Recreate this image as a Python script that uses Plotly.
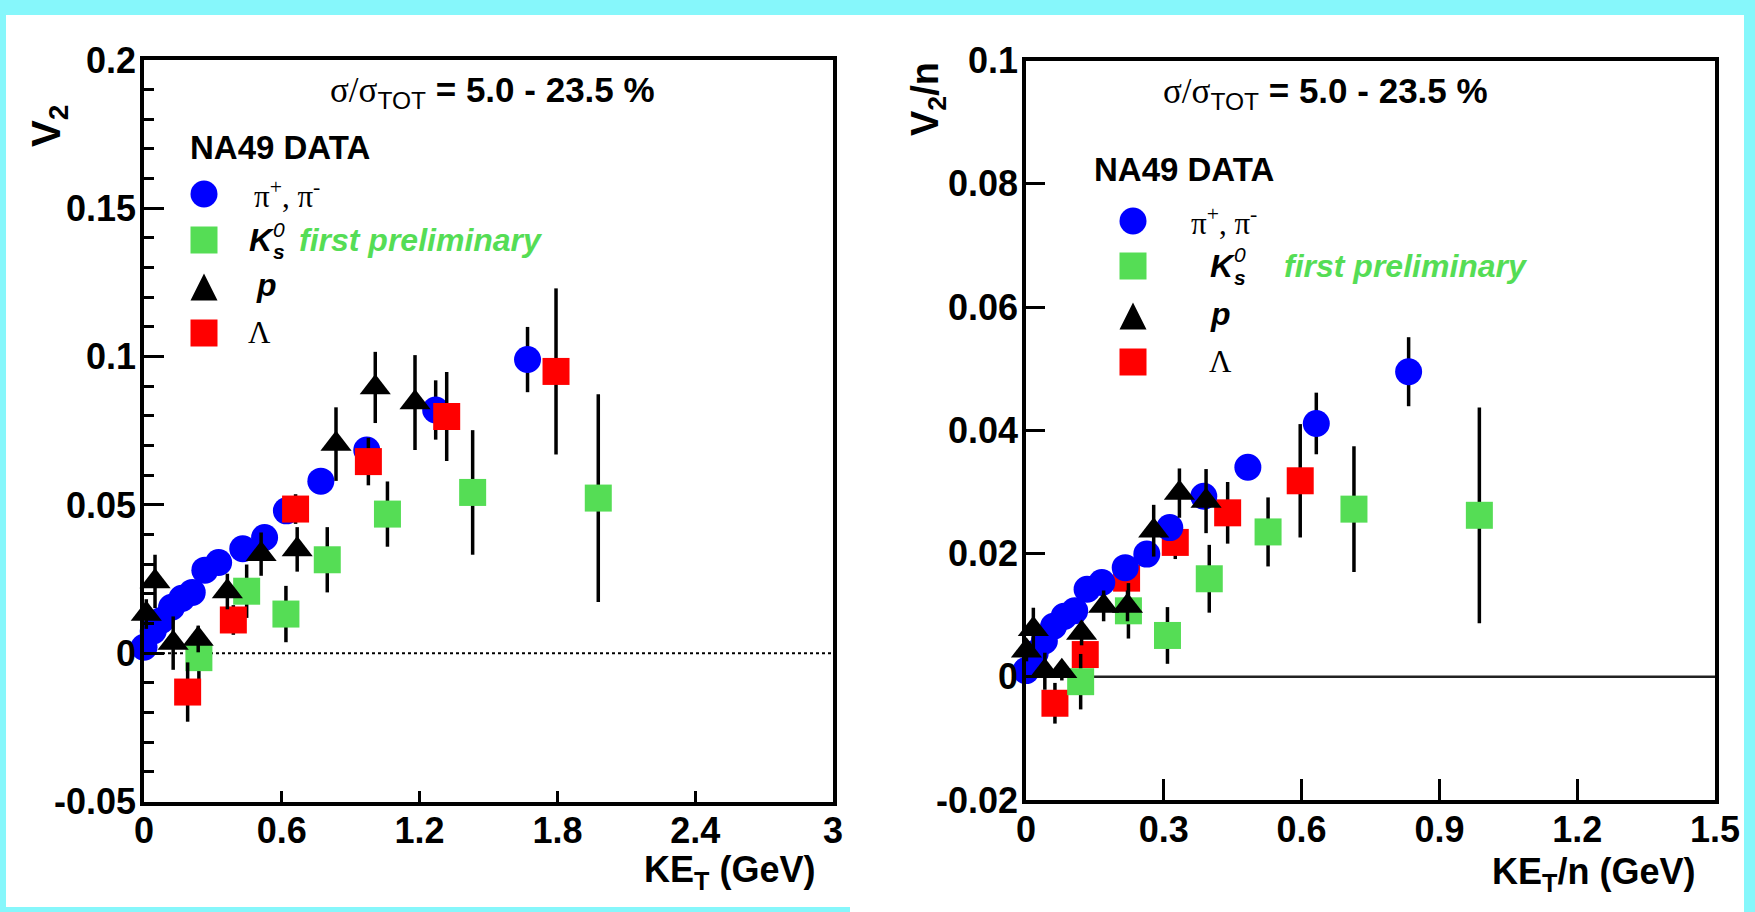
import plotly.graph_objects as go

W, H = 1755, 912
SANS = "Liberation Sans, Arial, Helvetica, sans-serif"
SERIF = "Liberation Serif, Times New Roman, serif"
CYAN = "#86F7FB"
BLUE = "#0000FF"
GREEN = "#55DD55"
RED = "#FF0000"
BLACK = "#000000"

# ---------------- left panel: v2 vs KE_T (GeV) ----------------
pi_ket = [0.0, 0.04, 0.075, 0.12, 0.165, 0.21, 0.265, 0.325, 0.43, 0.525, 0.62, 0.77, 0.97, 1.27, 1.67]
pi_v2 = [0.002, 0.0075, 0.011, 0.0155, 0.0185, 0.0205, 0.028, 0.0306, 0.0352, 0.039, 0.048, 0.058, 0.0685, 0.082, 0.099]
pi_err = [0.001, 0.001, 0.001, 0.001, 0.001, 0.001, 0.001, 0.001, 0.0015, 0.0015, 0.002, 0.003, 0.003, 0.010, 0.011]

k0_ket = [0.239, 0.447, 0.618, 0.798, 1.060, 1.431, 1.978]
k0_v2 = [-0.0015, 0.0209, 0.0132, 0.0315, 0.0469, 0.0542, 0.0523]
k0_err = [0.009, 0.009, 0.0095, 0.011, 0.011, 0.021, 0.035]

p_ket = [0.01, 0.048, 0.127, 0.236, 0.363, 0.51, 0.667, 0.836, 1.007, 1.18]
p_v2 = [0.0132, 0.0242, 0.0034, 0.0048, 0.0208, 0.0334, 0.035, 0.0705, 0.0896, 0.0845]
p_err = [0.005, 0.009, 0.009, 0.0045, 0.006, 0.0073, 0.0075, 0.0124, 0.012, 0.016]

lam_ket = [0.19, 0.389, 0.66, 0.977, 1.318, 1.794]
lam_v2 = [-0.0131, 0.0112, 0.0486, 0.0646, 0.0798, 0.0950]
lam_err = [0.010, 0.005, 0.005, 0.008, 0.015, 0.028]

# ---------------- right panel: v2/n vs KE_T/n (GeV) ----------------
pi_ketn = [0.0, 0.02, 0.04, 0.06, 0.083, 0.106, 0.133, 0.165, 0.216, 0.263, 0.313, 0.387, 0.483, 0.632, 0.833]
pi_v2n = [0.001, 0.0038, 0.0058, 0.0082, 0.0098, 0.0107, 0.0142, 0.0153, 0.0177, 0.0199, 0.0242, 0.0293, 0.034, 0.0411, 0.0495]
pi_errn = [0.0005, 0.0005, 0.0005, 0.0005, 0.0005, 0.0005, 0.0005, 0.0005, 0.0008, 0.0008, 0.001, 0.0015, 0.0015, 0.005, 0.0056]

k0_ketn = [0.119, 0.223, 0.308, 0.399, 0.527, 0.714, 0.987]
k0_v2n = [-0.0008, 0.0107, 0.0067, 0.0159, 0.0235, 0.0272, 0.0262]
k0_errn = [0.0045, 0.0045, 0.0046, 0.0055, 0.0056, 0.0102, 0.0175]

p_ketn = [0.001, 0.016, 0.041, 0.078, 0.121, 0.169, 0.221, 0.278, 0.334, 0.392]
p_v2n = [0.0042, 0.0077, 0.0009, 0.0009, 0.0071, 0.0115, 0.0115, 0.0237, 0.0298, 0.0285]
p_errn = [0.0017, 0.0035, 0.003, 0.0015, 0.002, 0.0025, 0.0025, 0.0042, 0.004, 0.0052]

lam_ketn = [0.063, 0.129, 0.219, 0.325, 0.439, 0.597]
lam_v2n = [-0.0043, 0.0036, 0.0160, 0.0218, 0.0266, 0.0318]
lam_errn = [0.0033, 0.0017, 0.0017, 0.0027, 0.005, 0.0092]

# tick labels
xl_vals = [0, 0.6, 1.2, 1.8, 2.4, 3]
xl_text = ["0", "0.6", "1.2", "1.8", "2.4", "3"]
yl_vals = [-0.05, 0, 0.05, 0.1, 0.15, 0.2]
yl_text = ["-0.05", "0", "0.05", "0.1", "0.15", "0.2"]
xr_vals = [0, 0.3, 0.6, 0.9, 1.2, 1.5]
xr_text = ["0", "0.3", "0.6", "0.9", "1.2", "1.5"]
yr_vals = [-0.02, 0, 0.02, 0.04, 0.06, 0.08, 0.1]
yr_text = ["-0.02", "0", "0.02", "0.04", "0.06", "0.08", "0.1"]

fig = go.Figure()


def series(x, y, e, symbol, color, size, xa, ya):
    fig.add_trace(go.Scatter(
        x=x, y=y, mode="markers", xaxis=xa, yaxis=ya, showlegend=False,
        cliponaxis=False,
        marker=dict(symbol=symbol, size=size, color=color, line=dict(width=0)),
        error_y=dict(type="data", array=e, visible=True, color=BLACK,
                     thickness=3.5, width=0),
    ))


# left (drawing order as in reference)
series(pi_ket, pi_v2, pi_err, "circle", BLUE, 27, "x", "y")
series(k0_ket, k0_v2, k0_err, "square", GREEN, 27, "x", "y")
series(lam_ket, lam_v2, lam_err, "square", RED, 27, "x", "y")
series(p_ket, p_v2, p_err, "triangle-up", BLACK, 27, "x", "y")
# right
series(lam_ketn, lam_v2n, lam_errn, "square", RED, 27, "x2", "y2")
series(k0_ketn, k0_v2n, k0_errn, "square", GREEN, 27, "x2", "y2")
series(pi_ketn, pi_v2n, pi_errn, "circle", BLUE, 27, "x2", "y2")
series(p_ketn, p_v2n, p_errn, "triangle-up", BLACK, 27, "x2", "y2")

tickfont = dict(family=SANS, size=36, color=BLACK, weight="bold")
common = dict(showline=True, linewidth=3.5, linecolor=BLACK, mirror=True,
              showgrid=False, zeroline=False, ticks="inside", tickcolor=BLACK,
              tickwidth=2.5, tickfont=tickfont, tickmode="array", automargin=False)

fig.update_layout(
    template="none",
    width=W, height=H, margin=dict(l=0, r=0, t=0, b=0, pad=0, autoexpand=False),
    paper_bgcolor=CYAN, plot_bgcolor="white", showlegend=False,
    xaxis=dict(domain=[144 / W, 833 / W], range=[0, 3], tickvals=xl_vals,
               ticktext=xl_text, ticklen=11, anchor="y", ticklabelstandoff=-5,
               **common),
    yaxis=dict(domain=[(H - 801.5) / H, (H - 60) / H], range=[-0.05, 0.2],
               tickvals=yl_vals, ticktext=yl_text, ticklen=20, anchor="x",
               ticklabelstandoff=-3,
               minor=dict(tickmode="linear", tick0=0, dtick=0.01, ticks="inside",
                          ticklen=10, tickwidth=2.5, tickcolor=BLACK, showgrid=False),
               **common),
    xaxis2=dict(domain=[1026 / W, 1715 / W], range=[0, 1.5], tickvals=xr_vals,
                ticktext=xr_text, ticklen=21, anchor="y2", ticklabelstandoff=-5,
                **common),
    yaxis2=dict(domain=[(H - 800) / H, (H - 60.5) / H], range=[-0.02, 0.1],
                tickvals=yr_vals, ticktext=yr_text, ticklen=19, anchor="x2",
                ticklabelstandoff=-3, **common),
)

shapes = []
# white page area over the cyan frame
shapes.append(dict(type="rect", xref="paper", yref="paper", x0=6 / W, x1=1744 / W,
                   y0=0, y1=1 - 15 / H, fillcolor="white", line=dict(width=0),
                   layer="below"))
shapes.append(dict(type="rect", xref="paper", yref="paper", x0=0, x1=850 / W,
                   y0=0, y1=5 / H, fillcolor=CYAN, line=dict(width=0), layer="below"))
# zero reference lines
shapes.append(dict(type="line", xref="x", yref="y", x0=xl_vals[0], x1=xl_vals[-1],
                   y0=0, y1=0, line=dict(color=BLACK, width=2, dash="dot"),
                   layer="below"))
shapes.append(dict(type="line", xref="x2", yref="y2", x0=xr_vals[0], x1=xr_vals[-1],
                   y0=0, y1=0, line=dict(color="#222222", width=2.5),
                   layer="below"))


def px(x):
    return x / W


def py(y):
    return 1 - y / H


def legend_circle(cx, cy, color, d=27):
    r = d / 2
    shapes.append(dict(type="circle", xref="paper", yref="paper",
                       x0=px(cx - r), x1=px(cx + r), y0=py(cy + r), y1=py(cy - r),
                       fillcolor=color, line=dict(width=0)))


def legend_square(cx, cy, color, d=27):
    r = d / 2
    shapes.append(dict(type="rect", xref="paper", yref="paper",
                       x0=px(cx - r), x1=px(cx + r), y0=py(cy + r), y1=py(cy - r),
                       fillcolor=color, line=dict(width=0)))


def legend_triangle(cx, cy, color, d=27):
    r = d / 2
    path = "M {:.5f},{:.5f} L {:.5f},{:.5f} L {:.5f},{:.5f} Z".format(
        px(cx - r), py(cy + r), px(cx + r), py(cy + r), px(cx), py(cy - r))
    shapes.append(dict(type="path", xref="paper", yref="paper", path=path,
                       fillcolor=color, line=dict(width=0)))


annotations = []


def ann(text, x, y, size, color=BLACK, family=SANS, xanchor="left",
        yanchor="middle", angle=0):
    annotations.append(dict(text=text, x=px(x), y=py(y), xref="paper", yref="paper",
                            showarrow=False, xanchor=xanchor, yanchor=yanchor,
                            textangle=angle,
                            font=dict(family=family, size=size, color=color)))


def legend_block(mx, rows, title_xy, lab_dx):
    legend_circle(mx, rows[0], BLUE)
    legend_square(mx, rows[1], GREEN)
    legend_triangle(mx, rows[2], BLACK)
    legend_square(mx, rows[3], RED)
    ann("<b>NA49 DATA</b>", title_xy[0], title_xy[1], 33)
    ann("π<sup>+</sup>, π<sup>-</sup>", mx + lab_dx[0], rows[0], 31, family=SERIF)
    ann("<b><i>K</i></b>", mx + lab_dx[1], rows[1], 32)
    ann("<i>0</i>", mx + lab_dx[1] + 24, rows[1] - 11, 21)
    ann("<b><i>s</i></b>", mx + lab_dx[1] + 24, rows[1] + 11, 21)
    ann("<b><i>first preliminary</i></b>", mx + lab_dx[4], rows[1], 32, color=GREEN)
    ann("<b><i>p</i></b>", mx + lab_dx[2], rows[2] - 2, 32)
    ann("Λ", mx + lab_dx[3], rows[3], 31, family=SERIF)


legend_block(204, [194, 240, 287, 333], (188, 147), [48, 43, 50, 42, 93])
legend_block(1133, [221, 266, 316, 362], (1092, 170), [56, 75, 75, 74, 149])

sigma = ("<span style='font-family:Liberation Serif'>σ/σ</span><sub>TOT</sub>"
         "<b> = 5.0 - 23.5 %</b>")
ann(sigma, 492, 92, 35, xanchor="center")
ann(sigma, 1325, 93, 35, xanchor="center")

ann("<b>V<sub>2</sub></b>", 49, 126, 40, xanchor="center", angle=-90)
ann("<b>V<sub>2</sub>/n</b>", 928, 99, 38, xanchor="center", angle=-90)
ann("<b>KE<sub>T</sub> (GeV)</b>", 817, 872, 36, xanchor="right")
ann("<b>KE<sub>T</sub>/n (GeV)</b>", 1697, 874, 36, xanchor="right")

fig.update_layout(shapes=shapes, annotations=annotations)
fig.write_html("out.html",
               config={"displayModeBar": False},
               post_script="document.body.style.margin='0px';"
                           "document.body.style.overflow='hidden';")
